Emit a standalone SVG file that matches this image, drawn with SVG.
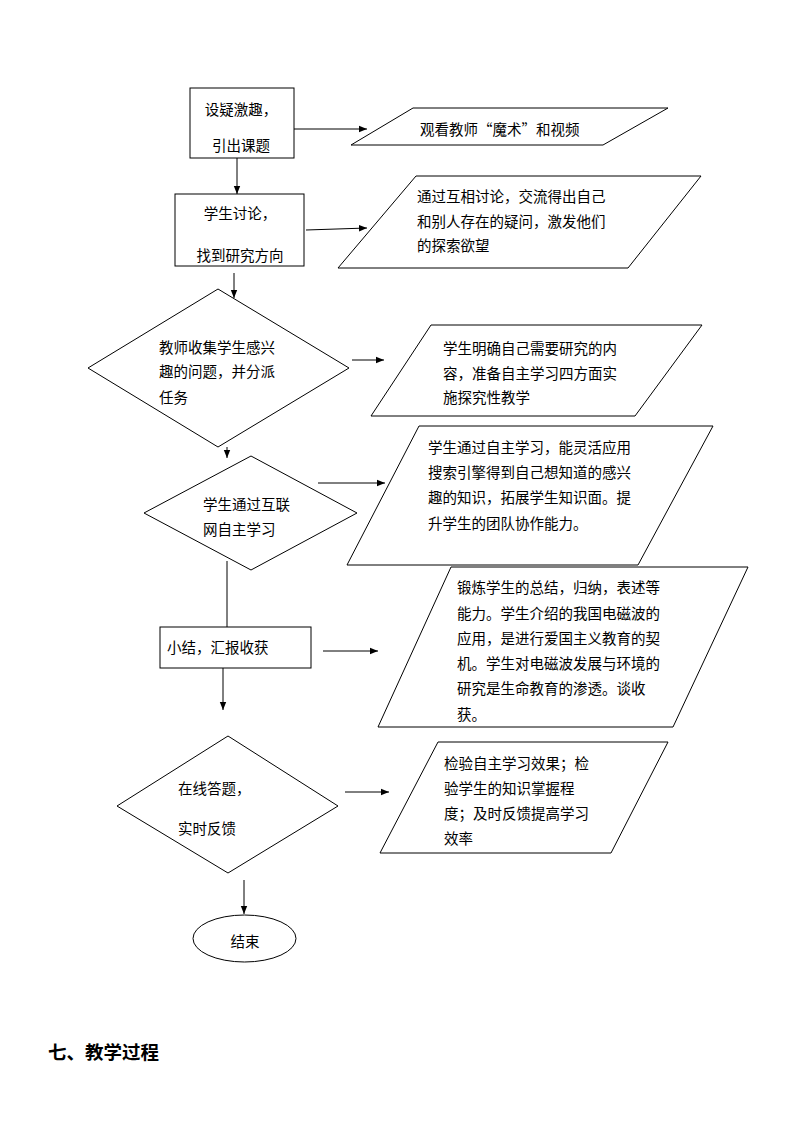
<svg xmlns="http://www.w3.org/2000/svg" width="794" height="1123" viewBox="0 0 794 1123">
<defs>
<marker id="ah" viewBox="0 0 10 10" refX="10" refY="5" markerWidth="8" markerHeight="8" markerUnits="userSpaceOnUse" orient="auto">
<path d="M0,1 L10,5 L0,9 z" fill="#000"/>
</marker>
<style>
.s{fill:#fff;stroke:#000;stroke-width:1}
.c{fill:none;stroke:#000;stroke-width:1}
.t{font-family:"Noto Sans CJK SC","Noto Sans",sans-serif;font-size:14.5px;fill:#000;dominant-baseline:central}
.m{text-anchor:middle}
.h{font-family:"Noto Sans CJK SC","Noto Sans",sans-serif;font-size:18.5px;font-weight:bold;fill:#000;dominant-baseline:central}
</style>
</defs>
<rect width="794" height="1123" fill="#fff"/>
<g id="connectors">
<line class="c" x1="294" y1="129" x2="367" y2="129" marker-end="url(#ah)"/>
<line class="c" x1="237" y1="158" x2="237" y2="194" marker-end="url(#ah)"/>
<line class="c" x1="306" y1="230" x2="367" y2="228" marker-end="url(#ah)"/>
<line class="c" x1="234" y1="273" x2="234" y2="298" marker-end="url(#ah)"/>
<line class="c" x1="352" y1="360" x2="384" y2="360" marker-end="url(#ah)"/>
<line class="c" x1="227" y1="447" x2="227" y2="458" marker-end="url(#ah)"/>
<line class="c" x1="318" y1="483" x2="385" y2="483" marker-end="url(#ah)"/>
<line class="c" x1="227" y1="561" x2="227" y2="627"/>
<line class="c" x1="323" y1="651" x2="378" y2="651" marker-end="url(#ah)"/>
<line class="c" x1="223" y1="668" x2="223" y2="710" marker-end="url(#ah)"/>
<line class="c" x1="345" y1="792" x2="389" y2="792" marker-end="url(#ah)"/>
<line class="c" x1="244" y1="880" x2="244" y2="914" marker-end="url(#ah)"/>
</g>
<g id="n1">
<rect class="s" x="190" y="88" width="104" height="70"/>
<text class="t m" x="241" y="108">设疑激趣，</text>
<text class="t m" x="241" y="144">引出课题</text>
</g>
<g id="p1">
<polygon class="s" points="413,108 668,108 603,145 351,145"/>
<text class="t" x="420" y="128">观看教师“魔术”和视频</text>
</g>
<g id="n2">
<rect class="s" x="175" y="194" width="129" height="72"/>
<text class="t m" x="240" y="212">学生讨论，</text>
<text class="t m" x="240" y="254">找到研究方向</text>
</g>
<g id="p2">
<polygon class="s" points="416,176 701,176 628,268 338,268"/>
<text class="t" x="417" y="195">通过互相讨论，交流得出自己</text>
<text class="t" x="417" y="220">和别人存在的疑问，激发他们</text>
<text class="t" x="417" y="244">的探索欲望</text>
</g>
<g id="d1">
<polygon class="s" points="218,289 349,368 218,447 88,368"/>
<text class="t" x="159" y="346">教师收集学生感兴</text>
<text class="t" x="159" y="370">趣的问题，并分派</text>
<text class="t" x="159" y="396">任务</text>
</g>
<g id="p3">
<polygon class="s" points="431,325 702,325 635,416 371,416"/>
<text class="t" x="443" y="347">学生明确自己需要研究的内</text>
<text class="t" x="443" y="372">容，准备自主学习四方面实</text>
<text class="t" x="443" y="396">施探究性教学</text>
</g>
<g id="d2">
<polygon class="s" points="251,456 357,513 251,570 144,513"/>
<text class="t" x="203" y="503">学生通过互联</text>
<text class="t" x="203" y="528">网自主学习</text>
</g>
<g id="p4">
<polygon class="s" points="419,426 713,426 638,565 347,565"/>
<text class="t" x="428" y="446">学生通过自主学习，能灵活应用</text>
<text class="t" x="428" y="471">搜索引擎得到自己想知道的感兴</text>
<text class="t" x="428" y="496">趣的知识，拓展学生知识面。提</text>
<text class="t" x="428" y="522">升学生的团队协作能力。</text>
</g>
<g id="n3">
<rect class="s" x="160" y="627" width="151" height="41"/>
<text class="t" x="167" y="646">小结，汇报收获</text>
</g>
<g id="p5">
<polygon class="s" points="451,567 748,567 673,727 378,727"/>
<text class="t" x="457" y="586">锻炼学生的总结，归纳，表述等</text>
<text class="t" x="457" y="612">能力。学生介绍的我国电磁波的</text>
<text class="t" x="457" y="637">应用，是进行爱国主义教育的契</text>
<text class="t" x="457" y="662">机。学生对电磁波发展与环境的</text>
<text class="t" x="457" y="687">研究是生命教育的渗透。谈收</text>
<text class="t" x="457" y="713">获。</text>
</g>
<g id="d3">
<polygon class="s" points="228,736 338,806 228,873 117,806"/>
<text class="t" x="178" y="787">在线答题，</text>
<text class="t" x="178" y="827">实时反馈</text>
</g>
<g id="p6">
<polygon class="s" points="438,742 668,742 611,853 380,853"/>
<text class="t" x="444" y="762">检验自主学习效果；检</text>
<text class="t" x="444" y="787">验学生的知识掌握程</text>
<text class="t" x="444" y="812">度；及时反馈提高学习</text>
<text class="t" x="444" y="837">效率</text>
</g>
<g id="end">
<ellipse class="s" cx="244.5" cy="938.5" rx="51.5" ry="23.5"/>
<text class="t m" x="245" y="940">结束</text>
</g>
<text class="h" x="48" y="1051">七、教学过程</text>
</svg>
